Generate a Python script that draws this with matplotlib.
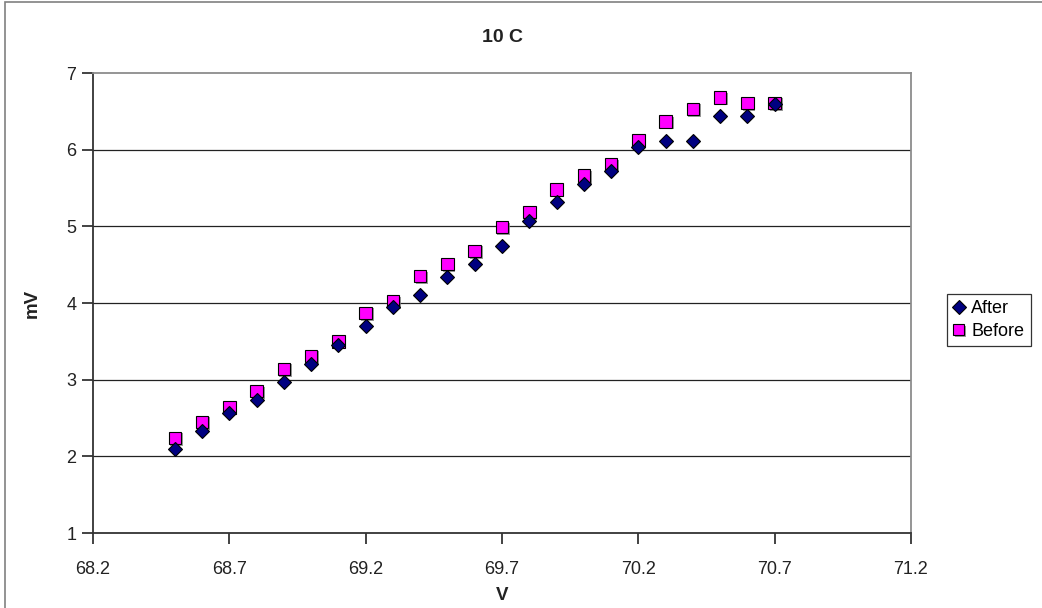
import matplotlib
matplotlib.use('Agg')
import matplotlib.pyplot as plt
import matplotlib.patheffects as pe
from matplotlib.patches import Rectangle

plt.rcParams['font.family'] = ['Liberation Sans', 'DejaVu Sans']

# data
volts = [68.5, 68.6, 68.7, 68.8, 68.9, 69.0, 69.1, 69.2, 69.3, 69.4, 69.5, 69.6,
         69.7, 69.8, 69.9, 70.0, 70.1, 70.2, 70.3, 70.4, 70.5, 70.6, 70.7]
after = [2.10, 2.33, 2.57, 2.73, 2.97, 3.21, 3.45, 3.70, 3.95, 4.10, 4.34, 4.51,
         4.75, 5.07, 5.32, 5.55, 5.72, 6.04, 6.11, 6.11, 6.44, 6.44, 6.60]
before = [2.24, 2.45, 2.64, 2.85, 3.14, 3.31, 3.50, 3.87, 4.02, 4.35, 4.51, 4.68,
          4.99, 5.19, 5.48, 5.66, 5.81, 6.12, 6.37, 6.53, 6.68, 6.61, 6.61]
xticks = [68.2, 68.7, 69.2, 69.7, 70.2, 70.7, 71.2]
yticks = [1, 2, 3, 4, 5, 6, 7]

fig = plt.figure(figsize=(10.42, 6.08), dpi=100)
# outer chart frame (only top and left visible in the crop)
fig.patches.append(Rectangle((5 / 1042, -0.1), 1.1, 1.1 - 2 / 608, transform=fig.transFigure,
                             fill=False, edgecolor='#808080', linewidth=1.2))
ax = fig.add_axes([93 / 1042, 75 / 608, 818 / 1042, 460 / 608])

ax.set_xlim(68.2, 71.2)
ax.set_ylim(1, 7)
ax.set_xticks(xticks)
ax.set_xticklabels([f'{v:.1f}' for v in xticks])
ax.set_yticks(yticks)
ax.tick_params(direction='out', length=8, width=1.2, labelsize=13, colors='#222222')
ax.tick_params(axis='x', pad=12)
ax.tick_params(axis='y', pad=4)

for y in yticks[1:-1]:
    ax.axhline(y, color='#222222', linewidth=0.9, zorder=1)

for s in ['left', 'bottom']:
    ax.spines[s].set_color('#333333')
    ax.spines[s].set_linewidth(1.3)
for s in ['top', 'right']:
    ax.spines[s].set_color('#8c8c8c')
    ax.spines[s].set_linewidth(1.3)

shadow = [pe.SimplePatchShadow(offset=(1.2, -1.2), shadow_rgbFace='#808080', alpha=0.8),
          pe.Normal()]
ax.plot(volts, before, linestyle='none', marker='s', markersize=9,
        markerfacecolor='#ff00ff', markeredgecolor='#000000', markeredgewidth=0.8,
        label='Before', zorder=3, path_effects=shadow)
ax.plot(volts, after, linestyle='none', marker='D', markersize=7.5,
        markerfacecolor='#000080', markeredgecolor='#000000', markeredgewidth=0.8,
        label='After', zorder=4)

handles, labels = ax.get_legend_handles_labels()
leg = fig.legend(handles[::-1], labels[::-1], loc='center left',
                 bbox_to_anchor=(947 / 1042, 1 - 320 / 608), frameon=True,
                 fancybox=False, edgecolor='#000000', fontsize=13,
                 handlelength=0.6, handletextpad=0.4, borderpad=0.35,
                 labelspacing=0.35, borderaxespad=0, markerscale=0.9)
leg.get_frame().set_linewidth(0.9)

fig.text(0.5 * (93 + 911) / 1042, 1 - 38 / 608, '10 C', ha='center', va='center',
         fontsize=14, fontweight='bold', color='#222222')
ax.set_xlabel('V', fontsize=13.5, fontweight='bold', labelpad=7, color='#222222')
ax.set_ylabel('mV', fontsize=13.5, fontweight='bold', labelpad=18, color='#222222')

fig.savefig('out.png', dpi=100)
